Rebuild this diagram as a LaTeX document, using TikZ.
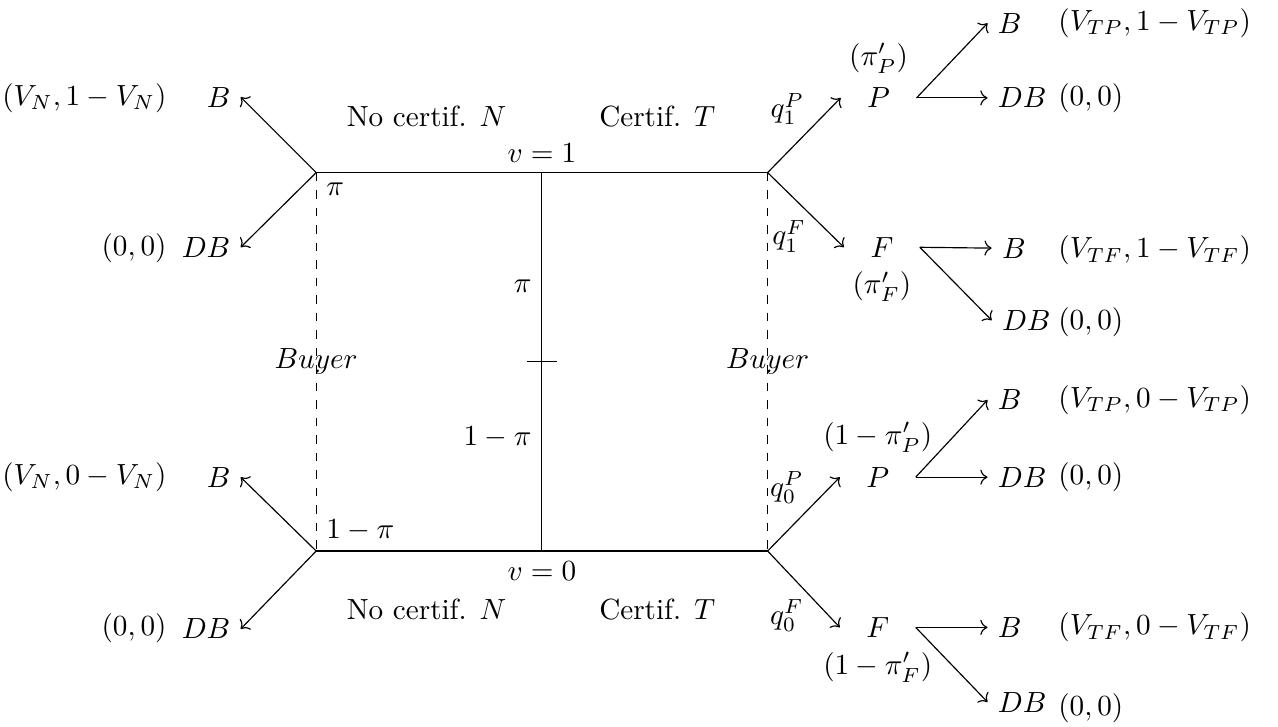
\documentclass[tikz,border=0pt]{standalone}
\usepackage{tikz}
\usetikzlibrary{arrows.meta,positioning}

\begin{document}
\begin{tikzpicture}[
  mv/.style={->},
  info/.style={dashed},
  typ/.style={minimum width=0.9cm,anchor=west},
  qlab/.style={xshift=3.5pt},
  payL/.style={anchor=east},
  payR/.style={anchor=west}
]
  \useasboundingbox (0,0) rectangle (15.40,8.75);
  \coordinate (nN1) at (3.81,6.67);
  \coordinate (nN0) at (3.81,2.11);
  \coordinate (nT1) at (9.25,6.67);
  \coordinate (nT0) at (9.25,2.11);
  \coordinate (v1)  at (6.53,6.67);
  \coordinate (v0)  at (6.53,2.11);
  \coordinate (nat) at (6.53,4.39);
  \node[anchor=east](bN1)  at (2.90,7.58) {$B$};
  \node[anchor=east](dbN1) at (2.90,5.77) {$DB$};
  \node[anchor=east](bN0)  at (2.90,3.00) {$B$};
  \node[anchor=east](dbN0) at (2.90,1.17) {$DB$};
  \node[payL](uN1)  at (2.13,7.57) {$(V_N,1-V_N)$};
  \node[payL](uN1d) at (2.13,5.76) {$(0,0)$};
  \node[payL](uN0)  at (2.13,3.00) {$(V_N,0-V_N)$};
  \node[payL](uN0d) at (2.13,1.18) {$(0,0)$};
  \node(labN1) at (5.14,7.35) {No certif. $N$};
  \node(labT1) at (7.92,7.35) {Certif. $T$};
  \node(labN0) at (5.14,1.41) {No certif. $N$};
  \node(labT0) at (7.92,1.41) {Certif. $T$};
  \node[below right](pN1) at (nN1) {$\pi$};
  \node[above right](pN0) at (nN0) {$1-\pi$};
  \node[typ](pT1) at (10.13,7.57) {$P$};
  \node[typ](fT1) at (10.17,5.77) {$F$};
  \node[typ](pT0) at (10.12,3.00) {$P$};
  \node[typ](fT0) at (10.12,1.19) {$F$};
  \node[above=-2pt of pT1](rP1) {$(\pi'_P)$};
  \node[below=-2pt of fT1](rF1) {$(\pi'_F)$};
  \node[above=-2pt of pT0](rP0) {$(1-\pi'_P)$};
  \node[below=-2pt of fT0](rF0) {$(1-\pi'_F)$};
  \node[anchor=west](bTP1)  at (11.90,8.47) {$B$};
  \node[anchor=west](dbTP1) at (11.90,7.57) {$DB$};
  \node[anchor=west](bTF1)  at (11.95,5.76) {$B$};
  \node[anchor=west](dbTF1) at (11.95,4.89) {$DB$};
  \node[anchor=west](bTP0)  at (11.90,3.93) {$B$};
  \node[anchor=west](dbTP0) at (11.90,3.00) {$DB$};
  \node[anchor=west](bTF0)  at (11.90,1.19) {$B$};
  \node[anchor=west](dbTF0) at (11.90,0.29) {$DB$};
  \node[payR](uTP1)  at (12.63,8.47) {$(V_{TP},1-V_{TP})$};
  \node[payR](uTP1d) at (12.63,7.57) {$(0,0)$};
  \node[payR](uTF1)  at (12.63,5.73) {$(V_{TF},1-V_{TF})$};
  \node[payR](uTF1d) at (12.63,4.87) {$(0,0)$};
  \node[payR](uTP0)  at (12.63,3.93) {$(V_{TP},0-V_{TP})$};
  \node[payR](uTP0d) at (12.63,3.00) {$(0,0)$};
  \node[payR](uTF0)  at (12.63,1.19) {$(V_{TF},0-V_{TF})$};
  \node[payR](uTF0d) at (12.63,0.22) {$(0,0)$};
  \draw(nN1)--node[above]{$v=1$}(nT1);
  \draw(nN0)--node[below]{$v=0$}(nT0);
  \draw[info](nN1)--node{$Buyer$}(nN0);
  \draw[info](nT1)--node{$Buyer$}(nT0);
  \draw(v1)--node[left,pos=0.6]{$\pi$}(nat)--node[left,pos=0.4]{$1-\pi$}(v0);
  \draw([xshift=-0.18cm]nat)--([xshift=0.18cm]nat);
  \draw[mv](nN1)--(bN1.east);
  \draw[mv](nN1)--(dbN1.east);
  \draw[mv](nN0)--(bN0.east);
  \draw[mv](nN0)--(dbN0.east);
  \draw[mv](nT1)--node[above left,qlab]{$q_1^P$}(pT1.west);
  \draw[mv](nT1)--node[below left,qlab]{$q_1^F$}(fT1.west);
  \draw[mv](nT0)--node[above left,qlab]{$q_0^P$}(pT0.west);
  \draw[mv](nT0)--node[below left,qlab]{$q_0^F$}(fT0.west);
  \draw[mv](pT1.east)--(bTP1.west);
  \draw[mv](pT1.east)--(dbTP1.west);
  \draw[mv](fT1.east)--(bTF1.west);
  \draw[mv](fT1.east)--(dbTF1.west);
  \draw[mv](pT0.east)--(bTP0.west);
  \draw[mv](pT0.east)--(dbTP0.west);
  \draw[mv](fT0.east)--(bTF0.west);
  \draw[mv](fT0.east)--(dbTF0.west);
\end{tikzpicture}
\end{document}
